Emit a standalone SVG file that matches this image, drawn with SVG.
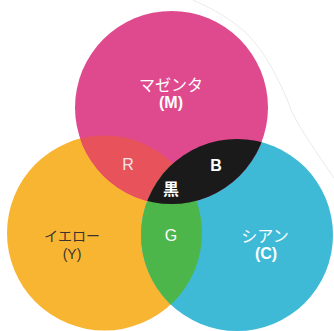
<svg xmlns="http://www.w3.org/2000/svg" width="334" height="331" viewBox="0 0 334 331">
  <style>
    .lbl { font-family: "Liberation Sans", "Noto Sans CJK JP", sans-serif; font-size: 16px; text-anchor: middle; }
    .w { fill: #ffffff; }
    .wb { fill: #ffffff; font-weight: bold; }
    .dk { fill: #3a3330; font-size: 14px; }
    .lt { fill: #f4e6e6; }
  </style>
  <defs>
    <clipPath id="clipM"><circle cx="171.5" cy="107.5" r="96.5"/></clipPath>
    <clipPath id="clipY"><circle cx="104.5" cy="233" r="97.5"/></clipPath>
    <clipPath id="clipC"><circle cx="237" cy="235" r="96"/></clipPath>
  </defs>
  <rect width="334" height="331" fill="#ffffff"/>
  <path d="M193,0 C215,10 232,20 245,32 C262,48 278,75 292,112 C302,132 315,150 334,178" fill="none" stroke="#c4c4c4" stroke-width="0.7" opacity="0.5"/>

  <g id="yellow"><circle cx="104.5" cy="233" r="97.5" fill="#f8b532"/></g>
  <g id="cyan"><circle cx="237" cy="235" r="96" fill="#3ebad7"/></g>
  <g id="magenta"><circle cx="171.5" cy="107.5" r="96.5" fill="#df4a8e"/></g>

  <g id="red" clip-path="url(#clipM)"><circle cx="104.5" cy="233" r="97.5" fill="#e8525b"/></g>
  <g id="green" clip-path="url(#clipY)"><circle cx="237" cy="235" r="96" fill="#4db64b"/></g>
  <g id="black" clip-path="url(#clipM)"><circle cx="237" cy="235" r="96" fill="#1b1a1b"/></g>

  <g id="labels">
    <text class="lbl w" x="171" y="91">マゼンタ</text>
    <text class="lbl wb" x="171" y="108">(M)</text>
    <text class="lbl lt" x="128" y="170">R</text>
    <text class="lbl wb" x="216" y="171">B</text>
    <text class="lbl wb" x="171" y="195">黒</text>
    <text class="lbl w" x="171" y="241">G</text>
    <text class="lbl dk" x="72" y="241">イエロー</text>
    <text class="lbl dk" x="72" y="259">(Y)</text>
    <text class="lbl w" x="265" y="242">シアン</text>
    <text class="lbl wb" x="266" y="259">(C)</text>
  </g>
</svg>
